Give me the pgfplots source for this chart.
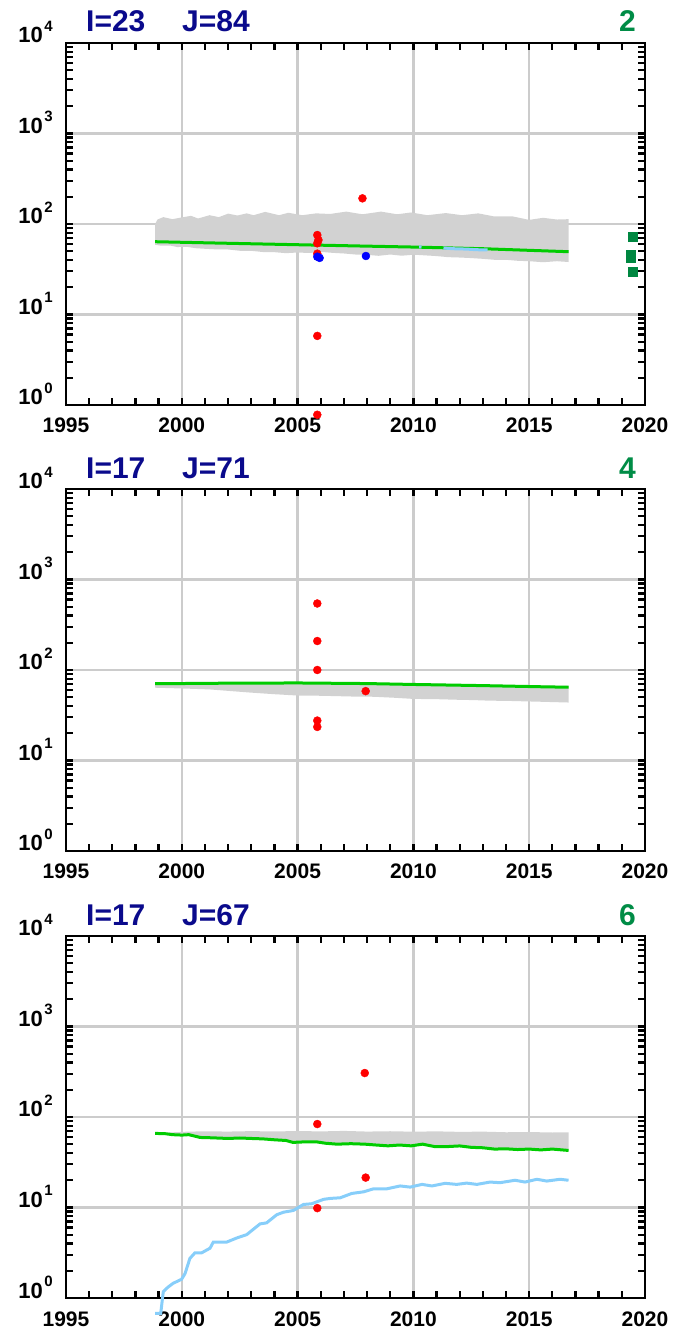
\documentclass[border=0pt]{standalone}
\usepackage{pgfplots}
\pgfplotsset{compat=1.18}
\usepackage{fontspec}
\setmainfont{Liberation Sans}
\definecolor{navyt}{RGB}{10,10,140}
\definecolor{greent}{RGB}{0,140,70}
\definecolor{gridgray}{RGB}{204,204,204}
\definecolor{bandgray}{RGB}{210,210,210}
\definecolor{lgreen}{RGB}{0,204,0}
\definecolor{lblue}{RGB}{135,206,250}
\definecolor{sqgreen}{RGB}{0,135,65}
\newcommand{\ylab}[1]{10\kern1.5bp\raisebox{11.5bp}{\fontsize{15bp}{15bp}\selectfont #1}}
\pgfplotsset{
  redpt/.style={only marks, mark=*, mark size=4bp, color=red, mark options={draw=red, fill=red}},
  bluept/.style={only marks, mark=*, mark size=4bp, color=blue, mark options={draw=blue, fill=blue}},
  bandst/.style={draw=none, fill=bandgray},
  gline/.style={color=lgreen, line width=3bp, no marks},
  bline/.style={color=lblue, line width=3bp, no marks},
  panel/.style={
  width=579bp, height=362bp, scale only axis,
  xmin=1995, xmax=2020, ymin=1, ymax=10000,
  clip=false,
  xtick={1995,2000,2005,2010,2015,2020},
  xticklabels={1995,2000,2005,2010,2015,2020},
  minor xtick={1996,1997,...,2019},
  ytick={1,10,100,1000,10000},
  yticklabels={\ylab{0},\ylab{1},\ylab{2},\ylab{3},\ylab{4}},
  minor ytick={2,3,4,5,6,7,8,9,20,30,40,50,60,70,80,90,200,300,400,500,600,700,800,900,2000,3000,4000,5000,6000,7000,8000,9000},
  xmajorgrids, ymajorgrids,
  major grid style={color=gridgray, line width=2.3bp},
  tick align=inside, major tick length=7.5bp, minor tick length=7.5bp,
  every tick/.style={black, line width=2.3bp},
  axis line style={line width=2.8bp},
  xticklabel style={font=\bfseries\fontsize{21bp}{21bp}\selectfont, anchor=base, inner sep=0pt, yshift=-28bp},
  yticklabel style={font=\bfseries\fontsize{22bp}{22bp}\selectfont, anchor=base east, inner sep=0pt, xshift=-13bp},
  }
}
\tikzset{ttl/.style={anchor=base west, text=navyt, inner sep=0pt, font=\bfseries\fontsize{30bp}{30bp}\selectfont},
         numr/.style={anchor=base east, text=greent, inner sep=0pt, font=\bfseries\fontsize{30bp}{30bp}\selectfont}}
\begin{document}
\begin{tikzpicture}
\path[use as bounding box] (0,0) rectangle (693bp,1333bp);

% ---------------- panel 1 ----------------
\begin{semilogyaxis}[panel, at={(66bp,928bp)}, anchor=south west]
\addplot[bandst] coordinates {
(1998.85,100) (1998.95,112) (1999.2,119) (1999.6,113) (1999.9,117) (2000.4,123) (2000.7,115)
(2001.2,125) (2001.6,119) (2002.0,130) (2002.4,124) (2002.8,131) (2003.1,125) (2003.6,136)
(2004.2,125) (2004.6,133) (2005.2,125) (2005.8,131) (2006.4,129) (2007.1,137) (2007.8,128)
(2008.6,137) (2009.3,128) (2009.9,134) (2010.6,125) (2011.4,132) (2012.1,125) (2012.8,131)
(2013.5,121) (2014.3,121) (2015.0,111) (2015.6,117) (2016.2,112) (2016.7,113)
(2016.7,38) (2016.2,38.8) (2015.6,37.8) (2015.0,38.8) (2014.5,39.2) (2014.0,40.2) (2013.5,40.2)
(2013.0,41.2) (2012.5,42.0) (2012.0,42.6) (2011.5,43.0) (2011.0,44.2) (2010.5,45.0) (2010.0,45.8)
(2009.5,44.6) (2009.0,46.0) (2008.5,44.5) (2008.0,45.6) (2007.5,46.0) (2007.0,47.2) (2006.5,48.0)
(2006.0,49.2) (2005.5,47.8) (2005.0,48.4) (2004.5,47.6) (2004.0,48.8) (2003.5,49.0) (2003.0,50.5)
(2002.5,50.6) (2002.0,52.3) (2001.5,52.4) (2001.0,53.2) (2000.6,54.0) (2000.2,56.0) (1999.8,55.6)
(1999.5,57.8) (1999.1,57.6) (1998.85,58.9)
};
\addplot[gline] coordinates {(1998.85,63.7) (2002,61.2) (2005,59.0) (2008,56.9) (2010,55.6) (2013,53.3) (2016.7,49.4)};
\addplot[bline] coordinates {(2011.3,54.2) (2011.8,53.2) (2012.3,52.8) (2012.7,52.0) (2013.2,51.6)};
\addplot[bline] coordinates {(2010.25,55.9) (2010.35,55.8)};
\addplot[redpt] coordinates {(2005.85,75.5) (2005.9,66.5) (2005.85,61.2) (2005.85,47) (2005.85,5.8) (2005.85,0.78) (2007.8,192)};
\addplot[bluept] coordinates {(2005.85,43.5) (2005.95,42.2) (2007.95,44.3)};
\addplot[only marks, mark=square*, mark size=4.5bp, color=sqgreen] coordinates {(2019.45,72.4) (2019.37,46.0) (2019.37,41.9) (2019.45,29.9)};
\end{semilogyaxis}
\node[ttl] at (86bp,1301bp) {I=23};
\node[ttl] at (182bp,1301bp) {J=84};
\node[numr] at (636bp,1301bp) {2};

% ---------------- panel 2 ----------------
\begin{semilogyaxis}[panel, at={(66bp,482bp)}, anchor=south west]
\addplot[bandst] coordinates {
(1998.85,71.5) (2001,72.5) (2003,73.2) (2005,73.5) (2007,72.8) (2009,71.5) (2011,70.5) (2013,69) (2015,67.5) (2016.7,66.5)
(2016.7,43.7) (2016.0,44.2) (2015.6,44.5) (2015.0,44.9) (2014.0,45.6) (2013.3,45.8) (2012.6,46.5) (2012.0,46.8) (2011.0,47.6)
(2010.0,47.9) (2009.2,49.3) (2008.3,50.6) (2007.5,50.8) (2006.7,51.4) (2006.0,51.9) (2005.0,52.2) (2004.0,54.0)
(2003.0,56.2) (2002.0,58.8) (2001.2,61.0) (2000.0,62.5) (1998.85,63.7)
};
\addplot[gline] coordinates {(1998.85,70.5) (2002,71.5) (2005,71.9) (2008,70.8) (2010,69.2) (2013,67.2) (2015.6,65.2) (2016.7,64.5)};
\addplot[redpt] coordinates {(2005.85,543) (2005.85,209) (2005.85,100) (2005.85,27.6) (2005.85,23.5) (2007.94,58.4)};
\end{semilogyaxis}
\node[ttl] at (86bp,854bp) {I=17};
\node[ttl] at (182bp,854bp) {J=71};
\node[numr] at (636bp,854bp) {4};

% ---------------- panel 3 ----------------
\begin{semilogyaxis}[panel, at={(66bp,35bp)}, anchor=south west]
\addplot[bandst] coordinates {
(1998.85,66.5) (1999.5,67.5) (2000.2,68.8) (2001,69.5) (2002,69.0) (2003,69.8) (2004,69.2) (2005,70.0) (2006,69.3)
(2007,70.2) (2008,69.0) (2009,69.6) (2010,68.8) (2011,69.4) (2012,68.5) (2013,68.9) (2014,67.8) (2015,68.2) (2016,67.4) (2016.7,67.6)
(2016.7,42.7) (2016.0,44.2) (2015.5,43.3) (2015.0,44.2) (2014.5,43.7) (2014.0,44.5) (2013.5,44.2) (2013.0,45.7)
(2012.5,46.2) (2012.0,47.9) (2011.4,47.0) (2010.9,47.2) (2010.4,50.1) (2009.9,48.0) (2009.4,49.0) (2008.9,48.0)
(2008.4,49.0) (2007.9,50.1) (2007.3,50.7) (2006.7,50.1) (2006.2,51.3) (2005.8,53.2) (2005.3,53.1) (2004.8,52.4)
(2004.5,55.0) (2004.0,56.0) (2003.5,57.3) (2003.0,57.9) (2002.5,58.6) (2002.0,57.9) (2001.3,58.9) (2000.8,59.4)
(2000.3,63.8) (2000.0,63.1) (1999.6,63.8) (1999.3,65.3) (1998.85,65.9)
};
\addplot[gline] coordinates {
(1998.85,65.9) (1999.3,65.3) (1999.6,63.8) (2000.0,63.1) (2000.3,63.8) (2000.8,59.4) (2001.3,58.9) (2002.0,57.9)
(2002.5,58.6) (2003.0,57.9) (2003.5,57.3) (2004.0,56.0) (2004.5,55.0) (2004.8,52.4) (2005.3,53.1) (2005.8,53.2)
(2006.2,51.3) (2006.7,50.1) (2007.3,50.7) (2007.9,50.1) (2008.4,49.0) (2008.9,48.0) (2009.4,49.0) (2009.9,48.0)
(2010.4,50.1) (2010.9,47.2) (2011.4,47.0) (2012.0,47.9) (2012.5,46.2) (2013.0,45.7) (2013.5,44.2) (2014.0,44.5)
(2014.5,43.7) (2015.0,44.2) (2015.5,43.3) (2016.0,44.2) (2016.7,42.7)};
\addplot[bline] coordinates {
(1998.85,0.676) (1999.09,0.676) (1999.2,1.175) (1999.4,1.315) (1999.63,1.455) (1999.99,1.61) (2000.14,1.862)
(2000.35,2.74) (2000.57,3.16) (2000.86,3.16) (2001.22,3.55) (2001.36,4.15) (2001.94,4.15) (2002.37,4.6)
(2002.8,5.01) (2003.38,6.59) (2003.66,6.76) (2004.1,8.32) (2004.39,8.87) (2004.82,9.27) (2005.25,10.8)
(2005.61,11.0) (2006.12,12.3) (2006.41,12.6) (2006.84,12.8) (2007.34,14.3) (2007.85,14.9) (2008.28,16.1)
(2008.86,16.1) (2009.43,17.3) (2009.86,16.8) (2010.37,18.0) (2010.8,17.3) (2011.37,18.5) (2011.87,18.0)
(2012.3,18.6) (2012.74,18.0) (2013.31,19.1) (2013.74,18.8) (2014.39,20.0) (2014.82,19.1) (2015.33,20.5)
(2015.76,19.6) (2016.33,20.5) (2016.7,20.0)};
\addplot[redpt] coordinates {(2005.85,83.6) (2007.9,306) (2007.94,21.4) (2005.85,9.84)};
\end{semilogyaxis}
\node[ttl] at (86bp,407bp) {I=17};
\node[ttl] at (182bp,407bp) {J=67};
\node[numr] at (636bp,407bp) {6};
\end{tikzpicture}
\end{document}
